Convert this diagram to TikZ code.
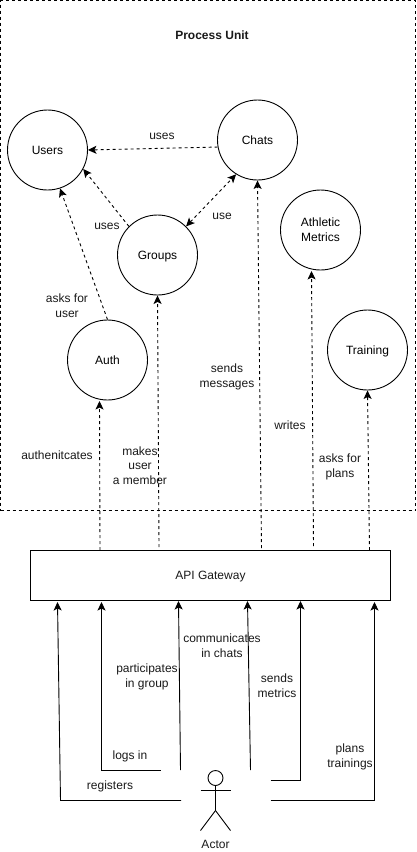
\documentclass[tikz,border=0pt]{standalone}
\usepackage{fontspec}
\setmainfont{Liberation Sans}
\usetikzlibrary{arrows.meta}
\tikzset{
  unitcircle/.style={draw,circle,line width=0.9pt,minimum size=80pt,inner sep=0pt,align=center,font=\fontsize{12}{15}\selectfont},
  oneline/.style={text height=8pt,text depth=0pt},
  lbl/.style={align=center,inner sep=0pt,anchor=base,text=black!90,font=\fontsize{12}{15}\selectfont},
  flow/.style={draw,line width=0.9pt,-{Stealth[length=8.5pt,width=8pt,inset=2pt]}},
  dflow/.style={flow,dash pattern=on 3pt off 3pt},
  bidflow/.style={dflow,{Stealth[length=8.5pt,width=8pt,inset=2pt]}-{Stealth[length=8.5pt,width=8pt,inset=2pt]}},
  limb/.style={draw,line width=0.9pt}
}
\begin{document}
\begin{tikzpicture}[x=1pt,y=-1pt,line width=0.9pt]
\useasboundingbox (0,0) rectangle (416,852);
% process unit frame
\node[draw,dash pattern=on 3pt off 3pt,line width=0.9pt,outer sep=0pt,minimum width=415pt,minimum height=510pt,inner sep=0pt,anchor=north west] (unit) at (0.5,0.5) {};
\node[lbl,font=\fontsize{12}{15}\selectfont\bfseries] (title) at (212,39) {Process Unit};
% services
\node[unitcircle,oneline] (users) at (47.5,150) {Users};
\node[unitcircle,oneline] (chats) at (257.5,140) {Chats};
\node[unitcircle,oneline] (groups) at (157.5,255) {Groups};
\node[unitcircle] (metrics) at (320.5,230) {Athletic\\Metrics};
\node[unitcircle,oneline] (auth) at (107.5,360) {Auth};
\node[unitcircle,oneline] (training) at (367.5,350) {Training};
% gateway
\node[draw,line width=0.9pt,minimum width=360pt,minimum height=50pt,inner sep=0pt,align=center,text height=7pt,text depth=0pt,text=black!90,font=\fontsize{12}{15}\selectfont] (gw) at (210.5,575.5) {API Gateway};
% free ends at the gateway top
\coordinate (gaAuth) at (100,550);
\coordinate (gaGroups) at (159,547);
\coordinate (gaChats) at (261.5,548);
\coordinate (gaMetrics) at (313.5,546);
\coordinate (gaTraining) at (369.5,550);
% arrow ends at the gateway bottom
\coordinate (gbReg) at (57.5,602);
\coordinate (gbLog) at (101.5,602);
\coordinate (gbPart) at (178.5,601);
\coordinate (gbComm) at (247.5,601);
\coordinate (gbSend) at (300.5,601);
\coordinate (gbPlan) at (374.5,602);
% free ends around the actor
\coordinate (acReg) at (181,800.5);
\coordinate (acLog) at (160.5,770.5);
\coordinate (acPart) at (180.5,770);
\coordinate (acComm) at (250.5,770);
\coordinate (acSend) at (270.5,780.5);
\coordinate (acPlan) at (270.5,800.5);
% internal links
\draw[dflow] (chats.190) -- (users.east);
\draw[dflow] (groups.135) -- (users.-28);
\draw[bidflow] (groups.45) -- (chats.238);
\draw[dflow] (auth.north) -- (users.-72);
% gateway to services
\draw[dflow] (gaAuth) -- (99.5,401);
\draw[dflow] (gaGroups) -- (groups.south);
\draw[dflow] (gaChats) -- (chats.south);
\draw[dflow] (gaMetrics) -- (311.5,271);
\draw[dflow] (gaTraining) -- (training.south);
% actor to gateway
\draw[flow] (acReg) -- (60.5,800.5) -- (gbReg);
\draw[flow] (acLog) -- (101.5,770.5) -- (gbLog);
\draw[flow] (acPart) -- (gbPart);
\draw[flow] (acComm) -- (gbComm);
\draw[flow] (acSend) -- (300.5,780.5) -- (gbSend);
\draw[flow] (acPlan) -- (374.5,800.5) -- (gbPlan);
% actor figure
\node[draw,circle,line width=0.9pt,minimum size=15pt,inner sep=0pt] (head) at (215.5,778) {};
\draw[limb] (head.south) -- (215.5,810.5) -- (200.5,830.5);
\draw[limb] (215.5,810.5) -- (230.5,830.5);
\draw[limb] (200.5,790.5) -- (230.5,790.5);
\node[lbl] (actor) at (215.5,848) {Actor};
% labels
\node[lbl] (l1) at (162,139) {uses};
\node[lbl] (l2) at (222,219) {use};
\node[lbl] (l3) at (107,229) {uses};
\node[lbl] (l4) at (67,317) {asks for\\user};
\node[lbl] (l5) at (57,459) {authenitcates};
\node[lbl] (l6) at (140,484) {makes\\[-0.5pt]user\\[-0.5pt]a member};
\node[lbl] (l7) at (227,387) {sends\\messages};
\node[lbl] (l8) at (290,429) {writes};
\node[lbl] (l9) at (340,477) {asks for\\plans};
\node[lbl] (l10) at (147,687) {participates\\in group};
\node[lbl] (l11) at (222,657) {communicates\\in chats};
\node[lbl] (l12) at (130,759) {logs in};
\node[lbl] (l13) at (110,789) {registers};
\node[lbl] (l14) at (277,697) {sends\\metrics};
\node[lbl] (l15) at (350,767) {plans\\trainings};
\end{tikzpicture}
\end{document}
